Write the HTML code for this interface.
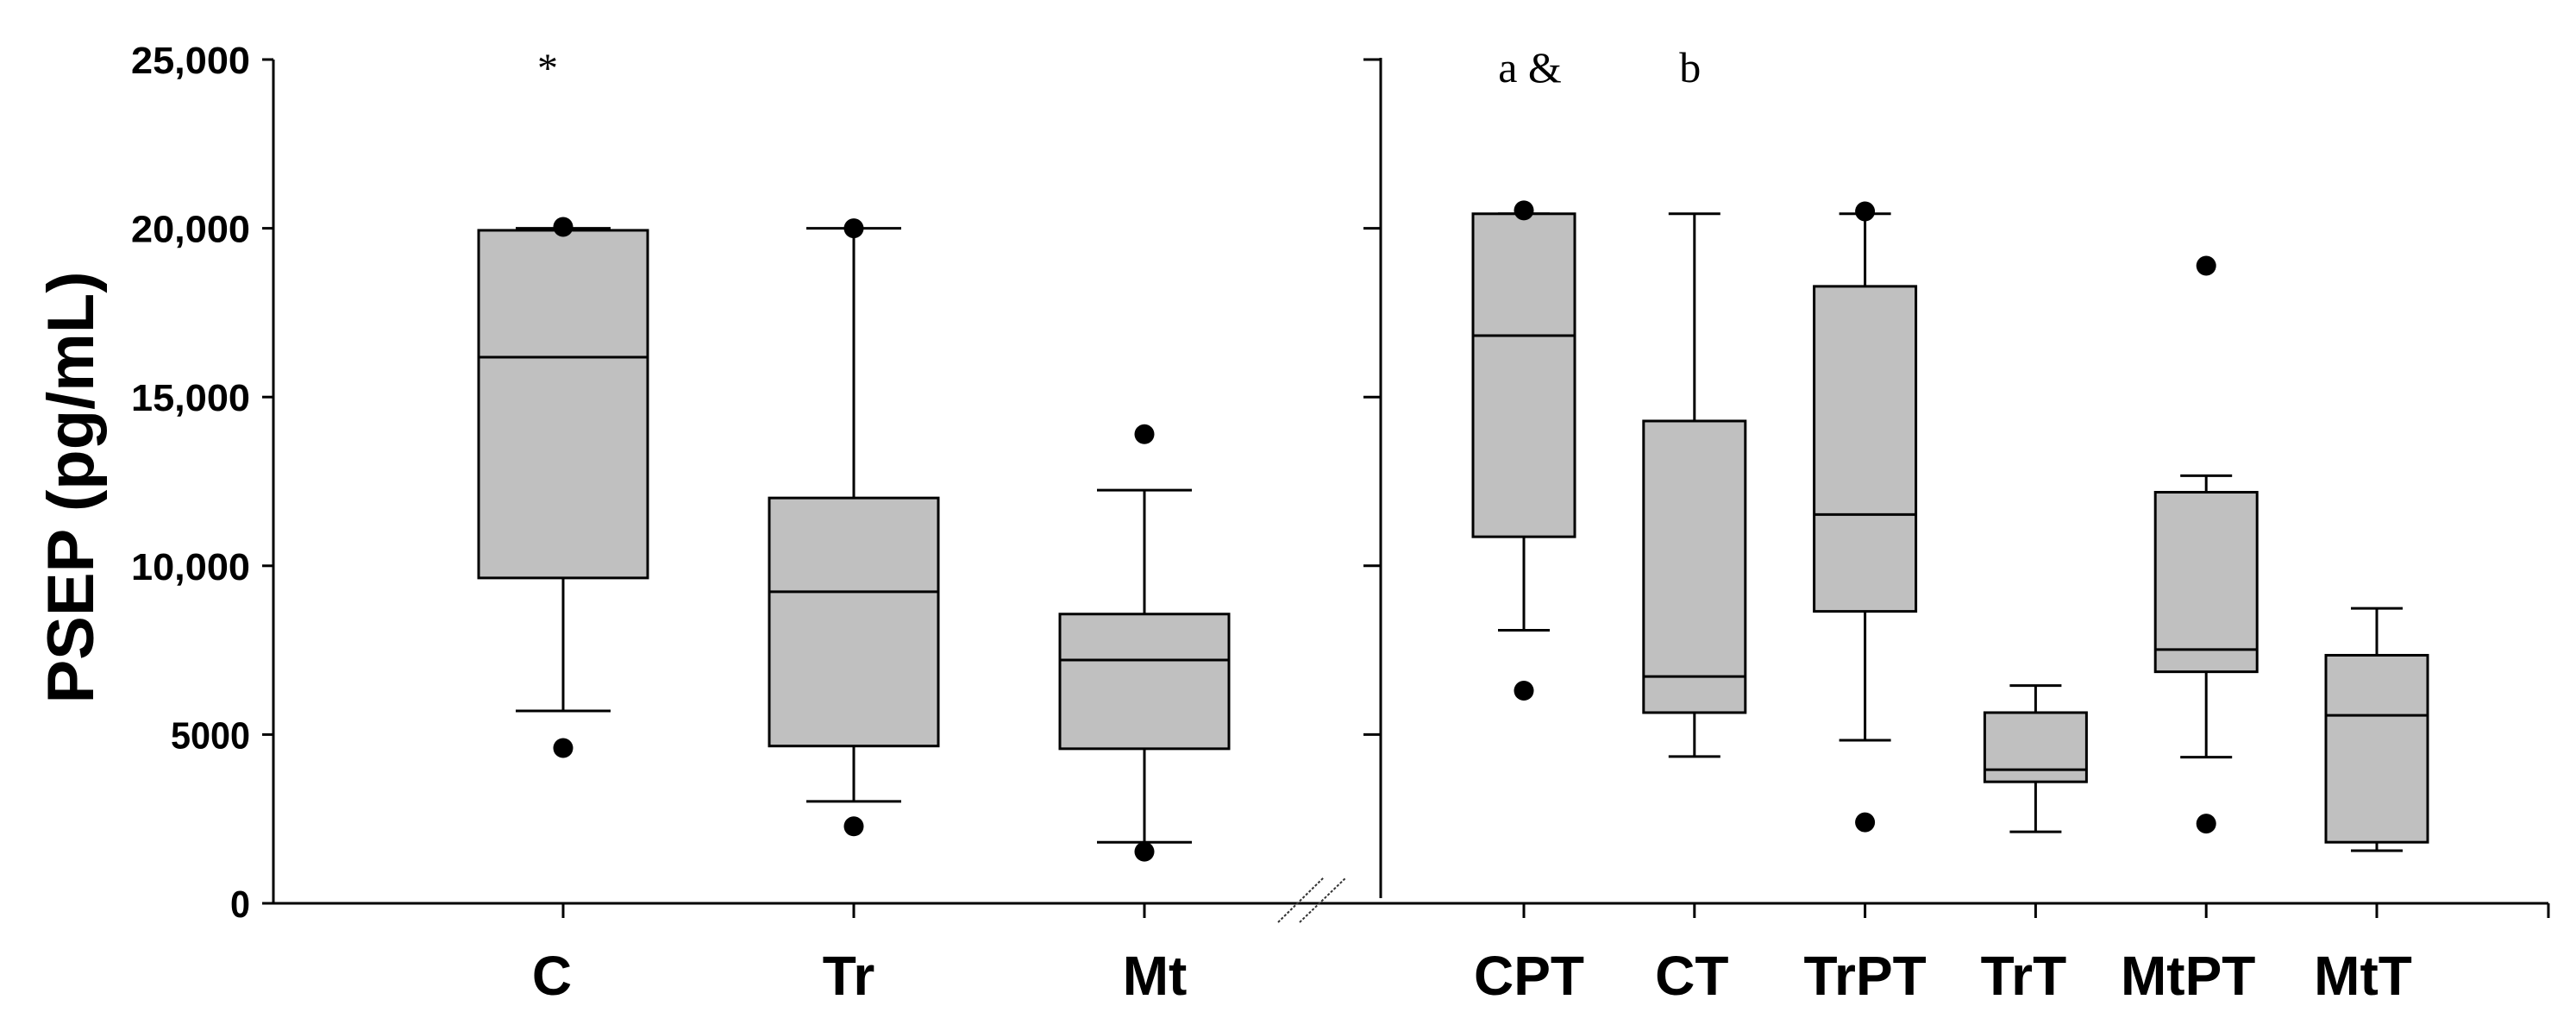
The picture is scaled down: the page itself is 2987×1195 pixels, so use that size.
<!DOCTYPE html>
<html><head><meta charset="utf-8"><style>
html,body{margin:0;padding:0;background:#fff;}
svg{display:block;}
</style></head><body>
<svg id="chart" width="2987" height="1195" viewBox="0 0 2987 1195" xmlns="http://www.w3.org/2000/svg">
<text x="0" y="0" transform="translate(108,565) rotate(-90)" text-anchor="middle" font-family="Liberation Sans, sans-serif" font-weight="bold" font-size="76">PSEP (pg/mL)</text>
<g id="axes"></g>
<g id="boxes"></g>
</svg>
<script>
const categories = ["C","Tr","Mt","CPT","CT","TrPT","TrT","MtPT","MtT"];
const whiskerLow  = [5700,3020,1810,8090,4350,4830,2120,4330,1560];
const q1Values    = [9640,4660,4580,10860,5650,8650,3600,6860,1810];
const medianValues= [16180,9230,7210,16820,6720,11520,3960,7520,5570];
const q3Values    = [19940,12010,8570,20430,14290,18280,5650,12180,7350];
const whiskerHigh = [20000,20000,12240,20430,20430,20430,6450,12670,8740];
const outliers    = [[4600,20040],[2280,20000],[1530,13900],[6300,20530],[],[2400,20500],[],[2360,18890],[]];
const yTicks = [0,5000,10000,15000,20000,25000];
const yTickLabels = ["0","5000","10,000","15,000","20,000","25,000"];
const annotations = [["*",0],["a &",3],["b",4]];

const NS="http://www.w3.org/2000/svg";
const Y0=1047, YPX=978/25000;
function y(v){return Y0 - v*YPX;}
function xPos(i){ return i<3 ? 653 + i*337 : 1767 + (i-3)*197.8; }
function boxW(i){ return i<3 ? 196 : 118; }
function capW(i){ return i<3 ? 110 : 60; }
function mk(tag, attrs, parent){const e=document.createElementNS(NS,tag);for(const k in attrs)e.setAttribute(k,attrs[k]);parent.appendChild(e);return e;}
const axes=document.getElementById('axes'), boxes=document.getElementById('boxes');
const st={stroke:"#000","stroke-width":3,fill:"none"};

// left y axis
let l=mk('line',Object.assign({x1:317,y1:y(25000),x2:317,y2:1047},st),axes);


// right y axis
l=mk('line',Object.assign({x1:1601,y1:y(25000)-2,x2:1601,y2:1041},st),axes);


// x axis
l=mk('line',Object.assign({x1:304,y1:1047,x2:2955,y2:1047},st),axes);


l=mk('line',Object.assign({x1:2955,y1:1047,x2:2955,y2:1064},st),axes);


// axis break
[[1482,1535],[1507,1561]].forEach(p=>{
  const b=mk('line',{x1:p[0],y1:1069,x2:p[1],y2:1017,stroke:"#333","stroke-width":2,"stroke-dasharray":"3 2"},axes);
  
  
});
// y ticks
yTicks.forEach((v,i)=>{
  const t=mk('line',Object.assign({x1:304,y1:y(v),x2:317,y2:y(v)},st),axes);
  
  
  if(v>0){
    const t2=mk('line',Object.assign({x1:1581,y1:y(v),x2:1601,y2:y(v)},st),axes);
    
    
  }
  const tx=mk('text',{x:290,y:y(v)+16,"text-anchor":"end","font-family":"Liberation Sans, sans-serif","font-weight":"bold","font-size":44,transform:"translate("+(290*0.12)+",0) scale(0.88,1)"},axes);
  tx.setAttribute('transform','');
  tx.setAttribute('textLength', String(yTickLabels[i].length*23));
  tx.setAttribute('lengthAdjust','spacingAndGlyphs');
  tx.textContent=yTickLabels[i];
  
  
});
// categories
const labelOffsets=[-13,-6,12,6,-3,0,-14,-21,-16];
categories.forEach((c,i)=>{
  const cx=xPos(i);
  const t=mk('line',Object.assign({x1:cx,y1:1047,x2:cx,y2:1064},st),axes);
  
  
  const lb=mk('text',{x:cx+labelOffsets[i],y:1153,"text-anchor":"middle","font-family":"Liberation Sans, sans-serif","font-weight":"bold","font-size":64},axes);
  lb.textContent=c;
  
  

  const g=mk('g',{},boxes);
  
  
  const w=boxW(i), cw=capW(i);
  mk('line',Object.assign({x1:cx,y1:y(whiskerHigh[i]),x2:cx,y2:y(q3Values[i])},st),g);
  mk('line',Object.assign({x1:cx,y1:y(q1Values[i]),x2:cx,y2:y(whiskerLow[i])},st),g);
  mk('line',Object.assign({x1:cx-cw/2,y1:y(whiskerHigh[i]),x2:cx+cw/2,y2:y(whiskerHigh[i])},st),g);
  mk('line',Object.assign({x1:cx-cw/2,y1:y(whiskerLow[i]),x2:cx+cw/2,y2:y(whiskerLow[i])},st),g);
  mk('rect',{x:cx-w/2,y:y(q3Values[i]),width:w,height:y(q1Values[i])-y(q3Values[i]),fill:"#c0c0c0",stroke:"#000","stroke-width":3},g);
  mk('line',Object.assign({x1:cx-w/2,y1:y(medianValues[i]),x2:cx+w/2,y2:y(medianValues[i])},st),g);
  outliers[i].forEach(v=>{
    const d=mk('circle',{cx:cx,cy:y(v),r:11.5,fill:"#000"},g);
    
    
  });
});
annotations.forEach(a=>{
  const i=a[1];
  const t=mk('text',{x:xPos(i)+(i===0?-18:(i===3?7:-5)),y:i===0?95:95,"text-anchor":"middle","font-family":"Liberation Serif, serif","font-size":i===0?48:50},axes);
  t.textContent=a[0];
  
  
});
</script>
</body></html>
